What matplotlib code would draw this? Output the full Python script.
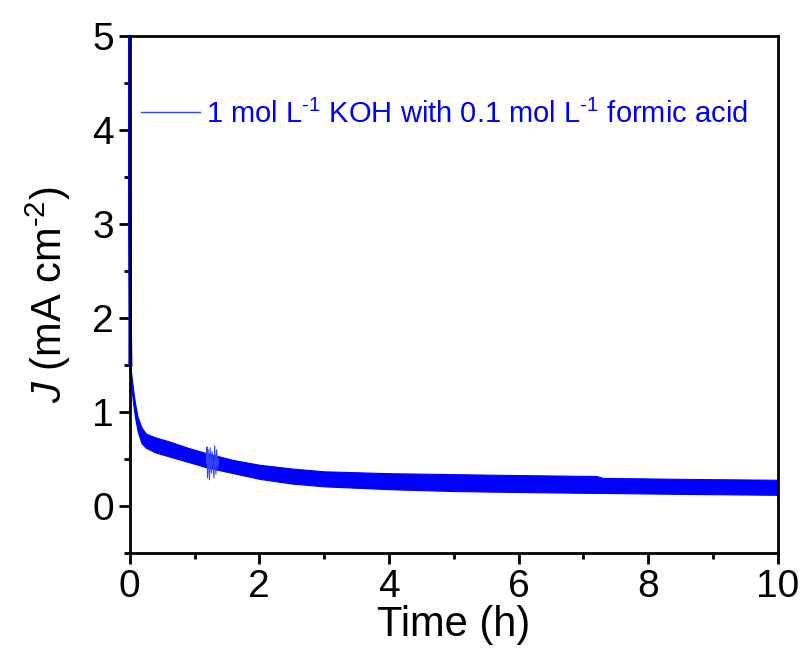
import numpy as np
import matplotlib
matplotlib.use('Agg')
import matplotlib.pyplot as plt
from matplotlib.ticker import MultipleLocator

plt.rcParams['font.family'] = ['Liberation Sans', 'DejaVu Sans']
plt.rcParams['mathtext.fontset'] = 'custom'
plt.rcParams['mathtext.rm'] = 'Liberation Sans'
plt.rcParams['mathtext.it'] = 'Liberation Sans:italic'

# envelope of the oscillating current band
time_h = [0, 0.005, 0.02, 0.05, 0.08, 0.12, 0.18, 0.25, 0.4, 0.6, 0.9, 1.2, 1.6,
          2.0, 2.5, 3.0, 4.0, 5.0, 6.0, 7.2, 7.3, 8.5, 10.0]
j_upper = [1.55, 1.5, 1.42, 1.25, 1.1, 0.95, 0.84, 0.77, 0.73, 0.69, 0.62, 0.56, 0.49,
           0.44, 0.40, 0.37, 0.35, 0.34, 0.33, 0.32, 0.30, 0.29, 0.28]
j_lower = [1.45, 1.4, 1.3, 1.1, 0.95, 0.8, 0.67, 0.62, 0.57, 0.53, 0.47, 0.41, 0.35,
           0.29, 0.24, 0.21, 0.18, 0.16, 0.15, 0.14, 0.14, 0.13, 0.12]

# initial transient at t = 0
t_start = [0, 0, 0.004, 0.01, 0.02]
j_start = [1.5, 5.0, 3.0, 2.0, 1.5]

# short noisy burst near 1.3 h
t_glitch = [1.18, 1.19, 1.2, 1.21, 1.23, 1.24, 1.26, 1.27, 1.3, 1.31, 1.33, 1.34, 1.36, 1.37]
j_glitch = [0.45, 0.63, 0.3, 0.6, 0.28, 0.62, 0.35, 0.58, 0.3, 0.64, 0.34, 0.6, 0.4, 0.5]

blue = '#0000ff'
label = '1 mol L$^{\\text{-1}}$ KOH with 0.1 mol L$^{\\text{-1}}$ formic acid'

fig = plt.figure(figsize=(8.06, 6.68), dpi=100)
ax = fig.add_axes([0.161, 0.172, 0.804, 0.774])

ax.fill_between(time_h, j_lower, j_upper, color=blue, linewidth=0.8, edgecolor=blue)
ax.plot(t_start, j_start, color=blue, linewidth=2, clip_on=False, zorder=2)
ax.plot(t_glitch, j_glitch, color='#3344ff', linewidth=0.8)
ax.plot([], [], color='#3344ff', linewidth=1, label=label)

ax.set_xlim(0, 10)
ax.set_ylim(-0.5, 5)
ax.xaxis.set_major_locator(MultipleLocator(2))
ax.xaxis.set_minor_locator(MultipleLocator(1))
ax.yaxis.set_major_locator(MultipleLocator(1))
ax.yaxis.set_minor_locator(MultipleLocator(0.5))

for s in ax.spines.values():
    s.set_linewidth(2)
ax.tick_params(which='major', direction='out', length=8, width=2, labelsize=28)
ax.tick_params(which='minor', direction='out', length=4, width=2)

ax.set_xlabel('Time (h)', fontsize=30, labelpad=0)
ax.set_ylabel('$\\mathit{J}$ (mA cm$^{\\text{-2}}$)', fontsize=30, labelpad=14)

leg = ax.legend(loc='upper left', bbox_to_anchor=(0.0, 0.90), frameon=False,
                fontsize=21, handlelength=2.0, handletextpad=0.2, borderaxespad=0.0)
for t in leg.get_texts():
    t.set_color(blue)

fig.savefig('out.png', dpi=100)
